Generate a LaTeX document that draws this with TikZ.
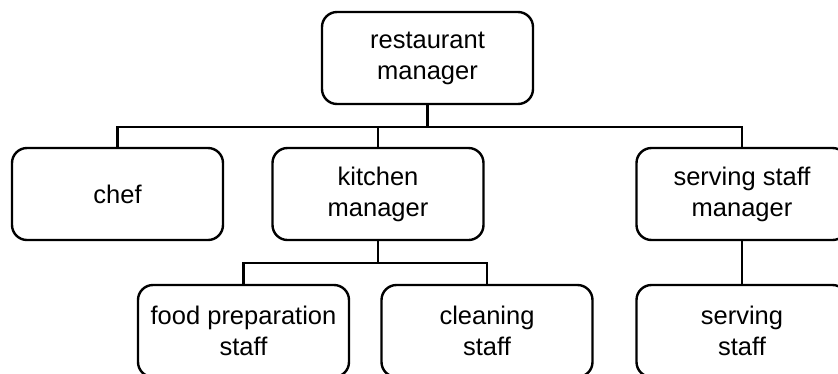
\documentclass[tikz,border=0pt]{standalone}
\usepackage{fontspec}
\setmainfont{Liberation Sans}
\begin{document}
\begin{tikzpicture}[x=1pt,y=-1pt,
  box/.style={draw=black, line width=2.4pt, rounded corners=15pt, minimum width=211pt, minimum height=92pt, inner sep=0pt, align=center, font=\fontsize{25.5}{31}\selectfont},
  link/.style={draw=black, line width=2.4pt}]
\useasboundingbox (0,0) rectangle (838,373);
\clip (0,0) rectangle (838,373);
\node[box] (top) at (427.5,58) {restaurant\\manager};
\node[box] (chef) at (117.5,194) {chef};
\node[box] (kitchen) at (378,194) {kitchen\\manager};
\node[box] (srvmgr) at (742,194) {serving staff\\manager};
\node[box] (food) at (243.5,331) {food preparation\\staff};
\node[box] (clean) at (487,331) {cleaning\\staff};
\node[box] (serving) at (742,331) {serving\\staff};
\coordinate (bus1) at (0,127);
\coordinate (bus2) at (0,263);
\draw[link] (top.south) -- (top.south |- bus1);
\draw[link] (chef.north) |- (srvmgr.north |- bus1) -- (srvmgr.north);
\draw[link] (kitchen.north) -- (kitchen.north |- bus1);
\draw[link] (kitchen.south) -- (kitchen.south |- bus2);
\draw[link] (food.north) |- (clean.north |- bus2) -- (clean.north);
\draw[link] (srvmgr.south) -- (serving.north);
\end{tikzpicture}
\end{document}
